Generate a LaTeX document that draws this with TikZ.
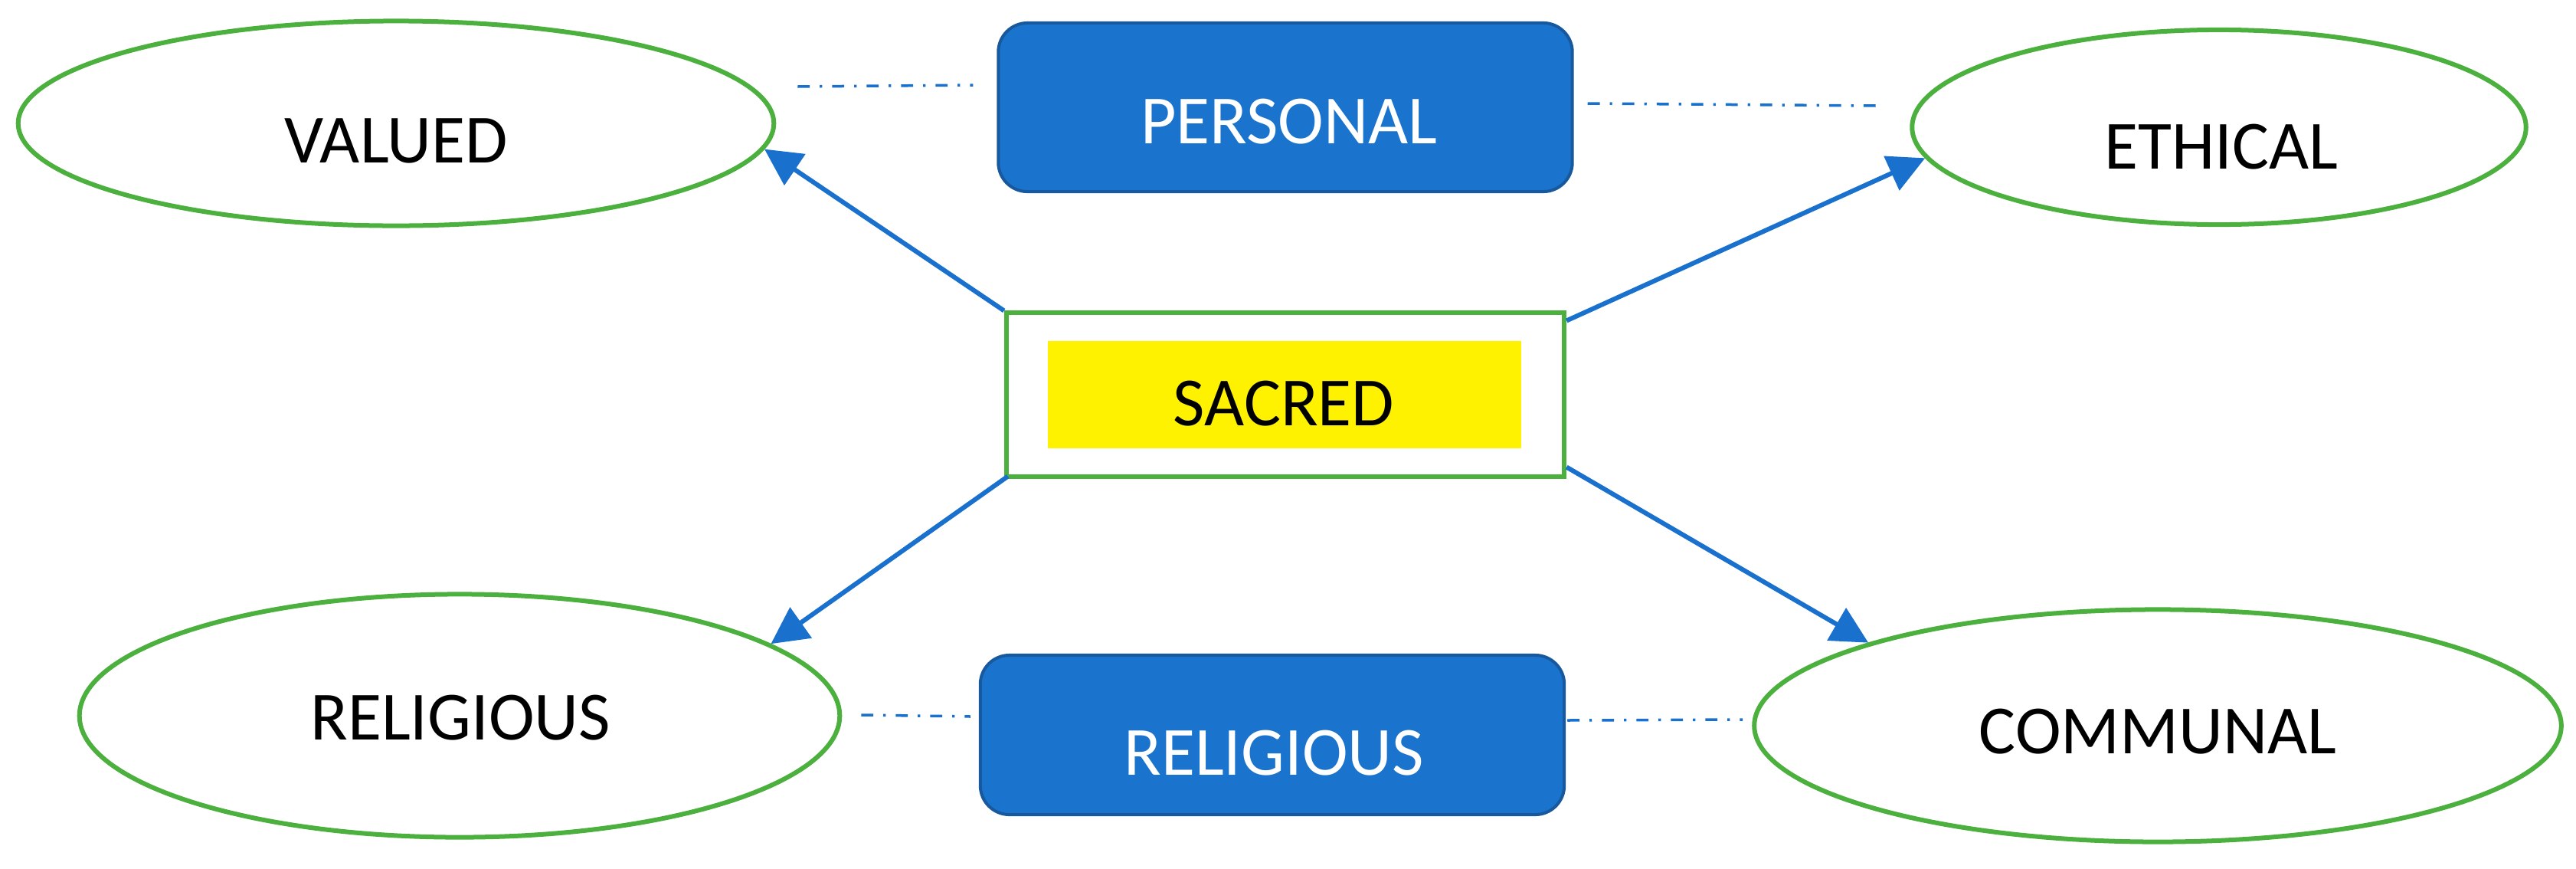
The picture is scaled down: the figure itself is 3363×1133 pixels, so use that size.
\documentclass[tikz,border=0pt]{standalone}
\usepackage{fontspec}
\setmainfont{Carlito}
\usetikzlibrary{shapes.geometric,arrows.meta}
\definecolor{grn}{RGB}{76,176,62}
\definecolor{bfill}{RGB}{26,115,204}
\definecolor{bdraw}{RGB}{24,88,156}
\definecolor{arr}{RGB}{26,112,205}
\begin{document}
\begin{tikzpicture}[x=0.01cm,y=-0.01cm,font=\fontsize{25.6}{30}\selectfont,
  oval/.style={ellipse, draw=grn, line width=0.06cm, inner sep=0},
  bluebox/.style={rectangle, rounded corners=0.38cm, fill=bfill, draw=bdraw, line width=0.04cm, inner sep=0},
  lbl/.style={inner sep=0, text=black},
  conn/.style={draw=arr, line width=0.06cm, -{Triangle[length=0.48cm,width=0.48cm]}},
  dd/.style={draw=arr, line width=0.035cm, dash pattern=on 4.5pt off 3.7pt on 0.9pt off 3.7pt}]
\useasboundingbox (0,0) rectangle (3363,1133);
% ellipses
\node[oval, minimum width=9.86cm, minimum height=2.67cm] (valued) at (517,161) {};
\node[lbl] (valuedt) at (517,184) {VALUED};
\node[oval, minimum width=8.01cm, minimum height=2.54cm] (ethical) at (2897,166) {};
\node[lbl] (ethicalt) at (2900,192) {ETHICAL};
\node[oval, minimum width=9.92cm, minimum height=3.17cm] (religious) at (600,934) {};
\node[lbl] (religioust) at (601,937) {RELIGIOUS};
\node[oval, minimum width=10.53cm, minimum height=3.03cm] (communal) at (2817,947) {};
\node[lbl] (communalt) at (2817,955) {COMMUNAL};
% blue boxes
\node[bluebox, minimum width=7.49cm, minimum height=2.2cm] (personal) at (1678,140) {};
\node[lbl, text=white] (personalt) at (1683,159) {PERSONAL};
\node[bluebox, minimum width=7.62cm, minimum height=2.08cm] (relbox) at (1661,959) {};
\node[lbl, text=white] (relboxt) at (1663,983) {RELIGIOUS};
% central box
\node[draw=grn, line width=0.06cm, fill=white, minimum width=7.28cm, minimum height=2.13cm, inner sep=0] (sacred) at (1678,515) {};
\node[fill=yellow, minimum width=6.18cm, minimum height=1.4cm, inner sep=0] (sacredin) at (1677,515) {};
\node[lbl] (sacredt) at (1676,527) {SACRED};
% arrows
\draw[conn] (sacred.north west) -- (valued.-4.5);
\draw[conn] ([yshift=-0.13cm]sacred.north east) -- (ethical.186);
\draw[conn] ([xshift=0.05cm,yshift=0.03cm]sacred.south west) -- (religious.13.6);
\draw[conn] ([yshift=0.15cm]sacred.south east) -- (communal.164.4);
% dash-dot links
\draw[dd] ([shift={(28,-48)}]valued.east) -- ([shift={(-31,-29)}]personal.west);
\draw[dd] ([shift={(18,-5)}]personal.east) -- ([shift={(-44,-28)}]ethical.west);
\draw[dd] ([shift={(25,-1)}]religious.east) -- ([shift={(-11,-24)}]relbox.west);
\draw[dd] ([shift={(2,-19)}]relbox.east) -- ([shift={(-12,-8)}]communal.west);
\end{tikzpicture}
\end{document}
